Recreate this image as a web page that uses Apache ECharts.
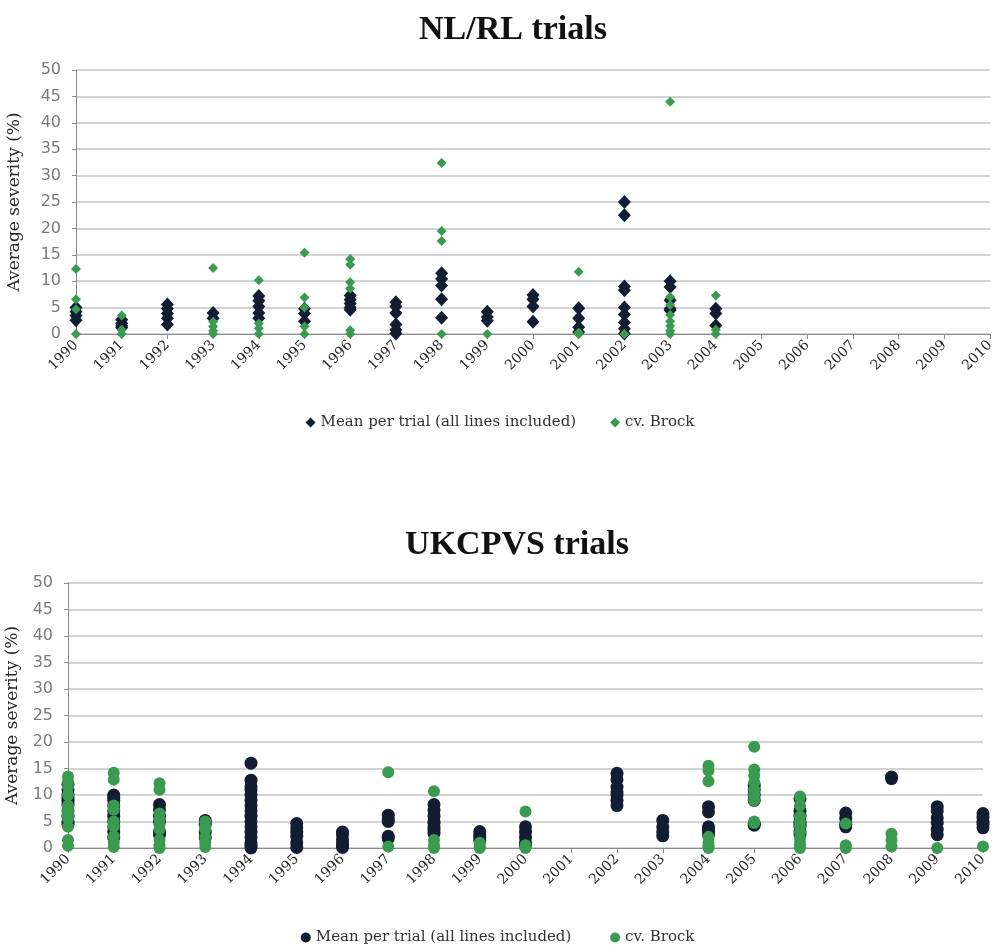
<!DOCTYPE html>
<html>
<head>
<meta charset="utf-8">
<script src="https://cdn.jsdelivr.net/npm/echarts@6/dist/echarts.min.js"></script>
<style>html,body{margin:0;padding:0;background:#fff;}#c{width:1000px;height:947px;}</style>
</head>
<body>
<div id="c"></div>
<script>
const years = ['1990','1991','1992','1993','1994','1995','1996','1997','1998','1999','2000','2001','2002','2003','2004','2005','2006','2007','2008','2009','2010'];
const yTicks = [0,5,10,15,20,25,30,35,40,45,50];

// NL/RL trials — one inner list per year (1990..2010)
const nlMean = [
  [5, 4.2, 3.5, 2.6], [2.7, 2, 1.5, 1.2], [5.6, 4.8, 3.9, 3, 1.8], [4, 3], [7.2, 6.3, 5.2, 4, 3],
  [4.8, 3.9, 2.4], [7.3, 6.5, 5.8, 5, 4.6], [6, 5.2, 4, 1.8, 0.8, 0.1], [11.5, 10.4, 9.2, 6.6, 3.1], [4.2, 3.2, 2.5],
  [7.4, 6.6, 5.2, 2.3], [4.9, 3, 1.3, 0.4], [25, 22.5, 9, 8.3, 5, 3.7, 2.2, 1, 0.1], [10, 8.9, 6.4, 4.8, 4.5], [4.8, 3.9, 1.6],
  [], [], [], [], [], []
];
const nlBrock = [
  [12.3, 6.6, 4.7, 0], [3.5, 0.8, 0], [], [12.5, 2.3, 1.4, 0.6, 0], [10.2, 2, 1.1, 0],
  [15.4, 6.9, 5, 1.4, 0], [14.2, 13.1, 9.8, 8.6, 0.7, 0], [], [32.4, 19.5, 17.6, 0], [0],
  [], [11.8, 0.3, 0], [0], [44, 7, 5.5, 3.6, 2.4, 1.5, 0.6, 0], [7.3, 0.8, 0],
  [], [], [], [], [], []
];

// UKCPVS trials
const ukMean = [
  [12, 11, 10, 9.5, 9, 8.5, 8, 7, 6, 5, 4.5], [10, 9.5, 9, 8, 7, 6, 5, 4, 3, 2], [8.2, 7.2, 6, 5, 3, 2.5], [5.2, 4.5, 3, 2],
  [16, 12.8, 11.6, 11, 10, 9, 8, 7, 6, 5, 4, 3, 2, 1, 0.5, 0], [4.6, 3.8, 3, 2.2, 1, 0.1], [3, 2.5, 1.6, 1, 0.5, 0.1],
  [6.2, 5.4, 5, 2.2, 1.8], [8.2, 7.1, 6, 5, 4.6, 4, 3.5, 2.8], [3.1, 2.5, 2, 1.4], [4, 3, 2, 1, 0.5], [],
  [14.1, 12.9, 11.5, 10.6, 10, 9, 8], [5.2, 4, 3, 2.3], [7.8, 6.8, 4, 3.5, 3, 2.5], [11.8, 11, 10, 9, 4.6, 4.3],
  [9.3, 7, 6, 5, 4.5, 4, 3, 2.5], [6.6, 5.6, 4.5, 4], [13.4, 13.1], [7.8, 7, 5.7, 4.7, 3.5, 2.5], [6.5, 5.8, 5, 4.5, 3.8]
];
const ukBrock = [
  [13.5, 12.5, 11.5, 10, 8, 7.5, 7, 6.5, 6, 5.5, 4, 1.5, 0.4], [14.2, 12.9, 8, 7.2, 5, 4.1, 2.2, 1, 0.2], [12.2, 11, 6.5, 5.5, 4.5, 3.5, 1.5, 0.5, 0],
  [5, 4, 3.5, 2, 1, 0.2], [], [], [], [14.3, 0.3], [10.7, 1.5, 0.5, 0], [1, 0.3, 0], [6.9, 0.5, 0], [], [], [],
  [15.5, 14.6, 12.6, 2.1, 1, 0.4, 0], [19.1, 14.8, 13.7, 12.4, 11, 10, 9, 5, 4.7], [9.7, 8, 6, 5, 4, 3, 2, 1, 0.4, 0],
  [4.6, 0.5, 0], [2.7, 1.5, 0.3], [0], [0.3]
];

function toPoints(lists) {
  const out = [];
  lists.forEach((vals, i) => vals.forEach(v => out.push([years[i], v])));
  return out;
}

const NAVY = '#121c33';
const GREEN = '#3a9a50';
const serif = 'Liberation Serif';
const wideSerif = 'DejaVu Serif';

function xAxis(gridIndex) {
  return {
    type: 'category', gridIndex, data: years, boundaryGap: false,
    axisLine: { lineStyle: { color: '#8c8c8c', width: 1 } },
    axisTick: { show: true, length: 5, lineStyle: { color: '#8c8c8c' } },
    axisLabel: { rotate: 45, fontFamily: wideSerif, fontSize: 14, color: '#262626', margin: 9, interval: 0 },
    splitLine: { show: false }
  };
}
function yAxis(gridIndex, gap) {
  return {
    type: 'value', gridIndex, min: yTicks[0], max: yTicks[yTicks.length - 1], interval: 5,
    name: 'Average severity (%)', nameLocation: 'middle', nameGap: gap, nameRotate: 90,
    nameTextStyle: { fontFamily: wideSerif, fontSize: 17, color: '#262626' },
    axisLine: { show: true, lineStyle: { color: '#8c8c8c' } },
    axisTick: { show: true, length: 4, lineStyle: { color: '#8c8c8c' } },
    axisLabel: { fontFamily: 'DejaVu Sans', fontSize: 16, color: '#7a7a7a', margin: 15 },
    splitLine: { show: true, lineStyle: { color: '#c4c4c4', width: 1.5 } }
  };
}

const chart = echarts.init(document.getElementById('c'), null, { renderer: 'canvas' });
chart.setOption({
  backgroundColor: '#ffffff',
  animation: false,
  title: [
    { text: 'NL/RL trials', left: 508, top: 8, textAlign: 'center',
      textStyle: { fontFamily: serif, fontSize: 34, fontWeight: 'bold', color: '#111' } },
    { text: 'UKCPVS trials', left: 512, top: 523, textAlign: 'center',
      textStyle: { fontFamily: serif, fontSize: 34, fontWeight: 'bold', color: '#111' } }
  ],
  legend: [
    { top: 410, left: 'center', itemGap: 34, itemWidth: 10, itemHeight: 10,
      data: [{ name: 'Mean per trial (all lines included)', icon: 'diamond' }, { name: 'cv. Brock', icon: 'diamond' }],
      textStyle: { fontFamily: wideSerif, fontSize: 15, color: '#333' } },
    { top: 925, left: 'center', itemGap: 34, itemWidth: 10, itemHeight: 10,
      data: [{ name: 'Mean per trial (all lines included) ', icon: 'circle' }, { name: 'cv. Brock ', icon: 'circle' }],
      textStyle: { fontFamily: wideSerif, fontSize: 15, color: '#333' } }
  ],
  grid: [
    { left: 76, right: 10, top: 70, height: 264, outerBoundsMode: 'none' },
    { left: 68, right: 17, top: 583, height: 265, outerBoundsMode: 'none' }
  ],
  xAxis: [xAxis(0), xAxis(1)],
  yAxis: [yAxis(0, 53), yAxis(1, 47)],
  series: [
    { name: 'Mean per trial (all lines included)', type: 'scatter', xAxisIndex: 0, yAxisIndex: 0,
      symbol: 'diamond', symbolSize: [13, 14], itemStyle: { color: NAVY, opacity: 1 }, data: toPoints(nlMean) },
    { name: 'cv. Brock', type: 'scatter', xAxisIndex: 0, yAxisIndex: 0,
      symbol: 'diamond', symbolSize: 10, itemStyle: { color: GREEN, opacity: 1 }, data: toPoints(nlBrock) },
    { name: 'Mean per trial (all lines included) ', type: 'scatter', xAxisIndex: 1, yAxisIndex: 1,
      symbol: 'circle', symbolSize: 13, itemStyle: { color: NAVY, opacity: 1 }, data: toPoints(ukMean) },
    { name: 'cv. Brock ', type: 'scatter', xAxisIndex: 1, yAxisIndex: 1,
      symbol: 'circle', symbolSize: 12, itemStyle: { color: GREEN, opacity: 1 }, data: toPoints(ukBrock) }
  ]
});
</script>
</body>
</html>
